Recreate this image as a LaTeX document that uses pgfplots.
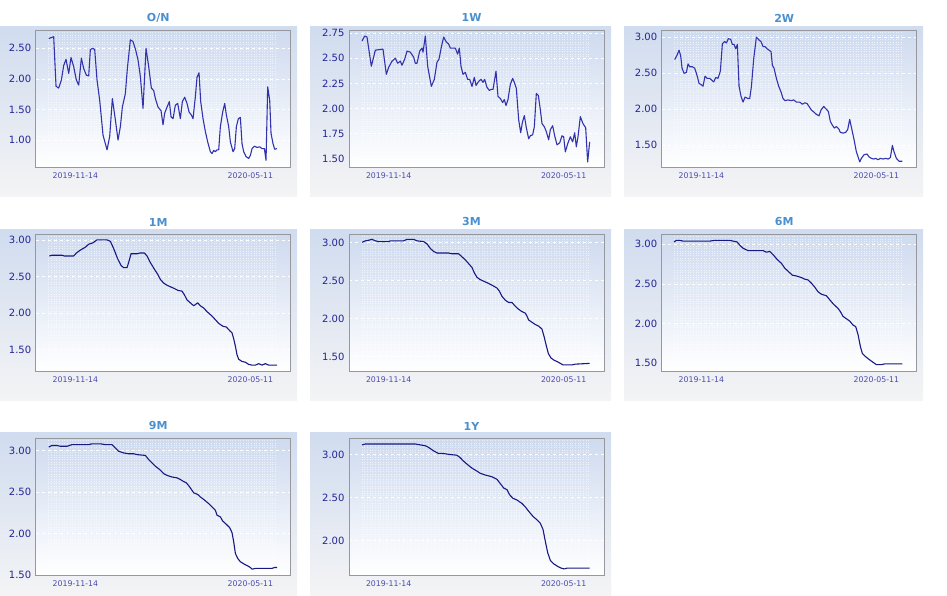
\documentclass[border=0pt]{standalone}
\usepackage{pgfplots}
\pgfplotsset{compat=1.18}
\usepackage{fontspec}
\setmainfont{DejaVu Sans}
\definecolor{paneltop}{RGB}{208,220,239}
\definecolor{panelbot}{RGB}{244,244,245}
\definecolor{plottop}{RGB}{206,218,239}
\definecolor{plotmid}{RGB}{236,241,250}
\definecolor{axisgray}{RGB}{150,152,158}
\definecolor{ytc}{RGB}{36,36,150}
\definecolor{xtc}{RGB}{75,75,175}
\definecolor{titc}{RGB}{74,144,206}
\definecolor{lineA}{RGB}{50,50,172}
\definecolor{lineB}{RGB}{24,24,128}
\pgfplotsset{
  panel/.style={
    scale only axis, width=255pt, height=137pt, anchor=north west,
    xmin=-119, xmax=646,
    xtick={0,525}, xticklabels={2019-11-14,2020-05-11},
    major tick length=0pt, minor tick length=0pt,
    axis line style={draw=axisgray, line width=0.8pt},
    axis background/.style={shade, top color=plottop, middle color=plotmid, bottom color=white},
    ymajorgrids, major grid style={white, dashed, line width=0.7pt},
    minor xtick={-80,-72,...,600}, xminorgrids,
    minor grid style={white, dotted, line width=0.5pt, opacity=0.6},
    /pgf/number format/assume math mode=true,
    scaled y ticks=false,
    yticklabel style={font=\fontsize{10}{11}\selectfont, text=ytc, xshift=-1pt,
      /pgf/number format/fixed, /pgf/number format/fixed zerofill, /pgf/number format/precision=2},
    xticklabel style={font=\fontsize{7.8}{8}\selectfont, text=xtc, yshift=-2pt},
    title style={font=\bfseries\fontsize{11}{12}\selectfont, text=titc, at={(0.5,1)}, anchor=center, yshift=6pt, xshift=-5pt},
  },
  lA/.style={color=lineA, line width=1.1pt, mark=none, line join=round},
  lB/.style={color=lineB, line width=1.1pt, mark=none, line join=round},
}
\begin{document}
\begin{tikzpicture}
\path[use as bounding box] (0pt,0pt) rectangle (947pt,596pt);
% panel backgrounds
\foreach \xa/\xb in {0/297,310/611,624/923}{
  \shade[top color=paneltop, bottom color=panelbot] (\xa pt,569pt) rectangle (\xb pt,399pt);
  \shade[top color=paneltop, bottom color=panelbot] (\xa pt,366pt) rectangle (\xb pt,195pt);
}
\foreach \xa/\xb in {0/297,310/611}{
  \shade[top color=paneltop, bottom color=panelbot] (\xa pt,163pt) rectangle (\xb pt,0pt);
}
% O/N
\begin{axis}[panel, at={(35.7pt,566pt)}, title={O/N}, ymin=0.56, ymax=2.80, ytick={1.00,1.50,2.00,2.50}]
\addplot[lA] coordinates {(-80,2.66)(-65,2.69)(-58,1.88)(-50,1.85)(-42,1.98)(-35,2.22)(-28,2.32)(-20,2.09)(-13,2.35)(-5,2.20)(3,1.98)(10,1.90)(18,2.34)(25,2.17)(33,2.06)(40,2.05)(45,2.48)(52,2.50)(58,2.48)(65,1.98)(73,1.65)(83,1.08)(95,0.84)(103,1.06)(111,1.68)(120,1.33)(128,1.00)(135,1.22)(141,1.54)(150,1.76)(156,2.17)(165,2.64)(173,2.61)(181,2.47)(188,2.31)(195,2.04)(203,1.52)(212,2.50)(220,2.20)(228,1.85)(235,1.81)(240,1.68)(248,1.54)(257,1.48)(263,1.25)(268,1.44)(275,1.54)(282,1.63)(287,1.38)(293,1.35)(300,1.57)(307,1.60)(315,1.35)(321,1.63)(328,1.70)(335,1.60)(341,1.46)(348,1.41)(353,1.35)(360,1.71)(365,2.03)(371,2.10)(376,1.63)(383,1.35)(390,1.14)(397,0.97)(405,0.81)(410,0.78)(415,0.83)(420,0.81)(425,0.84)(430,0.84)(435,1.22)(442,1.46)(448,1.60)(453,1.41)(460,1.22)(465,0.97)(473,0.81)(478,0.86)(483,1.22)(489,1.35)(495,1.37)(500,0.94)(505,0.81)(512,0.73)(520,0.70)(525,0.75)(530,0.86)(537,0.90)(545,0.88)(553,0.89)(560,0.86)(567,0.86)(572,0.67)(577,1.87)(583,1.65)(587,1.11)(593,0.94)(598,0.85)(605,0.86)};
\end{axis}
% 1W
\begin{axis}[panel, at={(349pt,566pt)}, title={1W}, ymin=1.42, ymax=2.78, ytick={1.50,1.75,2.00,2.25,2.50,2.75}]
\addplot[lA] coordinates {(-80,2.67)(-72,2.72)(-65,2.71)(-52,2.42)(-40,2.58)(-17,2.59)(-7,2.34)(0,2.41)(10,2.47)(20,2.50)(27,2.45)(35,2.47)(40,2.43)(48,2.49)(55,2.57)(65,2.56)(75,2.51)(80,2.45)(85,2.45)(93,2.57)(100,2.60)(103,2.56)(110,2.72)(117,2.42)(128,2.22)(137,2.29)(145,2.46)(151,2.49)(158,2.61)(165,2.71)(173,2.66)(180,2.64)(185,2.60)(200,2.60)(207,2.54)(212,2.60)(217,2.42)(223,2.34)(230,2.36)(237,2.29)(243,2.29)(250,2.22)(257,2.31)(262,2.23)(270,2.27)(277,2.29)(283,2.26)(288,2.29)(295,2.21)(302,2.18)(308,2.19)(313,2.19)(322,2.37)(328,2.12)(335,2.10)(342,2.06)(347,2.09)(352,2.03)(358,2.09)(365,2.24)(372,2.30)(377,2.26)(383,2.20)(390,1.89)(396,1.76)(401,1.86)(407,1.93)(413,1.81)(420,1.70)(425,1.73)(432,1.74)(437,1.82)(443,2.15)(449,2.13)(455,1.99)(460,1.85)(467,1.82)(473,1.77)(480,1.69)(485,1.79)(492,1.83)(498,1.73)(505,1.64)(513,1.66)(520,1.73)(525,1.72)(530,1.57)(537,1.65)(545,1.72)(552,1.67)(558,1.76)(563,1.62)(568,1.72)(575,1.92)(583,1.85)(591,1.81)(597,1.47)(603,1.67)};
\end{axis}
% 2W
\begin{axis}[panel, at={(661.7pt,566pt)}, title={2W}, ymin=1.20, ymax=3.10, ytick={1.50,2.00,2.50,3.00}]
\addplot[lA] coordinates {(-80,2.69)(-73,2.75)(-67,2.82)(-62,2.74)(-58,2.57)(-52,2.50)(-45,2.51)(-40,2.63)(-35,2.59)(-27,2.59)(-20,2.57)(-13,2.47)(-7,2.36)(0,2.34)(5,2.32)(11,2.46)(17,2.43)(25,2.43)(32,2.40)(37,2.38)(43,2.44)(50,2.43)(57,2.53)(63,2.91)(70,2.94)(75,2.92)(81,2.98)(88,2.97)(93,2.90)(98,2.90)(103,2.84)(108,2.90)(113,2.32)(119,2.18)(125,2.10)(131,2.17)(139,2.15)(145,2.15)(150,2.31)(157,2.70)(165,3.00)(173,2.96)(179,2.94)(185,2.87)(191,2.87)(197,2.84)(203,2.82)(209,2.80)(213,2.61)(218,2.57)(225,2.43)(232,2.32)(239,2.24)(245,2.15)(251,2.12)(260,2.13)(270,2.12)(277,2.13)(285,2.10)(295,2.10)(303,2.07)(310,2.09)(317,2.08)(323,2.04)(330,1.99)(338,1.96)(345,1.93)(353,1.91)(359,1.99)(367,2.04)(373,2.01)(381,1.97)(387,1.83)(393,1.78)(399,1.74)(405,1.76)(412,1.73)(417,1.68)(425,1.67)(433,1.68)(439,1.72)(445,1.86)(452,1.71)(458,1.58)(465,1.41)(471,1.33)(475,1.27)(480,1.32)(488,1.37)(497,1.38)(503,1.34)(510,1.32)(517,1.31)(523,1.32)(530,1.30)(537,1.32)(545,1.31)(553,1.32)(560,1.31)(567,1.33)(573,1.50)(578,1.41)(585,1.32)(593,1.28)(603,1.28)};
\end{axis}
% 1M
\begin{axis}[panel, at={(35.7pt,362pt)}, title={1M}, ymin=1.21, ymax=3.08, ytick={1.50,2.00,2.50,3.00}]
\addplot[lB] coordinates {(-78,2.78)(-70,2.79)(-40,2.79)(-33,2.78)(-5,2.78)(3,2.82)(15,2.86)(30,2.90)(40,2.94)(53,2.96)(65,3.00)(95,3.00)(105,2.98)(115,2.88)(127,2.74)(137,2.65)(145,2.62)(155,2.62)(161,2.71)(167,2.81)(185,2.81)(193,2.82)(207,2.82)(215,2.78)(225,2.69)(237,2.60)(247,2.53)(255,2.46)(265,2.41)(275,2.38)(285,2.36)(295,2.34)(308,2.31)(320,2.30)(327,2.25)(335,2.18)(345,2.14)(355,2.10)(367,2.14)(375,2.10)(385,2.07)(395,2.02)(410,1.96)(420,1.91)(430,1.86)(443,1.82)(453,1.81)(463,1.76)(470,1.73)(475,1.65)(480,1.55)(485,1.43)(490,1.37)(500,1.34)(510,1.33)(520,1.30)(530,1.29)(540,1.29)(550,1.31)(560,1.29)(570,1.31)(580,1.29)(605,1.29)};
\end{axis}
% 3M
\begin{axis}[panel, at={(349pt,362pt)}, title={3M}, ymin=1.31, ymax=3.11, ytick={1.50,2.00,2.50,3.00}]
\addplot[lB] coordinates {(-80,3.00)(-70,3.02)(-58,3.03)(-50,3.04)(-40,3.02)(-30,3.01)(0,3.01)(5,3.02)(45,3.02)(55,3.04)(75,3.04)(85,3.02)(105,3.01)(115,2.98)(125,2.92)(135,2.88)(145,2.86)(180,2.86)(190,2.85)(210,2.85)(220,2.81)(230,2.77)(240,2.72)(250,2.67)(257,2.60)(265,2.54)(275,2.51)(285,2.49)(300,2.46)(313,2.43)(325,2.40)(332,2.36)(340,2.29)(350,2.24)(360,2.21)(370,2.21)(380,2.16)(390,2.12)(400,2.09)(410,2.07)(415,2.03)(420,1.98)(430,1.95)(440,1.92)(450,1.90)(460,1.86)(467,1.75)(473,1.64)(479,1.54)(487,1.48)(497,1.45)(507,1.43)(515,1.41)(523,1.39)(550,1.39)(560,1.40)(603,1.41)};
\end{axis}
% 6M
\begin{axis}[panel, at={(661.7pt,362pt)}, title={6M}, ymin=1.40, ymax=3.13, ytick={1.50,2.00,2.50,3.00}]
\addplot[lB] coordinates {(-82,3.03)(-75,3.05)(-65,3.05)(-55,3.04)(25,3.04)(40,3.05)(85,3.05)(95,3.04)(107,3.03)(115,2.99)(125,2.95)(140,2.92)(185,2.92)(195,2.90)(205,2.91)(215,2.87)(227,2.81)(240,2.76)(250,2.70)(260,2.66)(273,2.61)(285,2.60)(300,2.58)(310,2.56)(320,2.55)(330,2.51)(340,2.46)(350,2.40)(360,2.37)(375,2.35)(385,2.30)(395,2.25)(410,2.19)(417,2.15)(425,2.09)(435,2.06)(445,2.03)(455,1.98)(463,1.96)(470,1.86)(477,1.71)(483,1.62)(493,1.58)(505,1.54)(515,1.51)(525,1.48)(540,1.48)(550,1.49)(603,1.49)};
\end{axis}
% 9M
\begin{axis}[panel, at={(35.7pt,158pt)}, title={9M}, ymin=1.50, ymax=3.15, ytick={1.50,2.00,2.50,3.00}]
\addplot[lB] coordinates {(-80,3.04)(-70,3.06)(-55,3.06)(-45,3.05)(-25,3.05)(-10,3.07)(40,3.07)(50,3.08)(75,3.08)(90,3.07)(110,3.07)(120,3.03)(130,2.99)(145,2.97)(160,2.96)(175,2.96)(185,2.95)(210,2.94)(220,2.89)(230,2.85)(240,2.81)(253,2.77)(265,2.72)(275,2.70)(290,2.68)(305,2.67)(315,2.65)(323,2.63)(333,2.61)(343,2.56)(355,2.49)(367,2.47)(375,2.44)(385,2.41)(400,2.36)(410,2.32)(420,2.28)(425,2.22)(435,2.20)(442,2.15)(453,2.11)(463,2.07)(470,2.01)(475,1.90)(480,1.76)(487,1.70)(495,1.66)(507,1.63)(517,1.61)(525,1.59)(530,1.57)(540,1.58)(590,1.58)(597,1.59)(605,1.59)};
\end{axis}
% 1Y
\begin{axis}[panel, at={(349pt,158pt)}, title={1Y}, ymin=1.60, ymax=3.19, ytick={2.00,2.50,3.00}]
\addplot[lB] coordinates {(-80,3.11)(-70,3.12)(65,3.12)(80,3.12)(95,3.11)(110,3.10)(120,3.08)(135,3.04)(150,3.01)(165,3.01)(180,3.00)(205,2.99)(215,2.96)(225,2.92)(237,2.88)(250,2.84)(263,2.81)(275,2.78)(290,2.76)(310,2.74)(325,2.71)(335,2.66)(345,2.61)(355,2.59)(363,2.53)(373,2.49)(385,2.47)(400,2.43)(410,2.39)(420,2.34)(433,2.28)(445,2.24)(455,2.20)(463,2.13)(470,1.99)(477,1.86)(485,1.77)(495,1.73)(507,1.70)(517,1.68)(527,1.67)(535,1.68)(603,1.68)};
\end{axis}
\end{tikzpicture}
\end{document}
